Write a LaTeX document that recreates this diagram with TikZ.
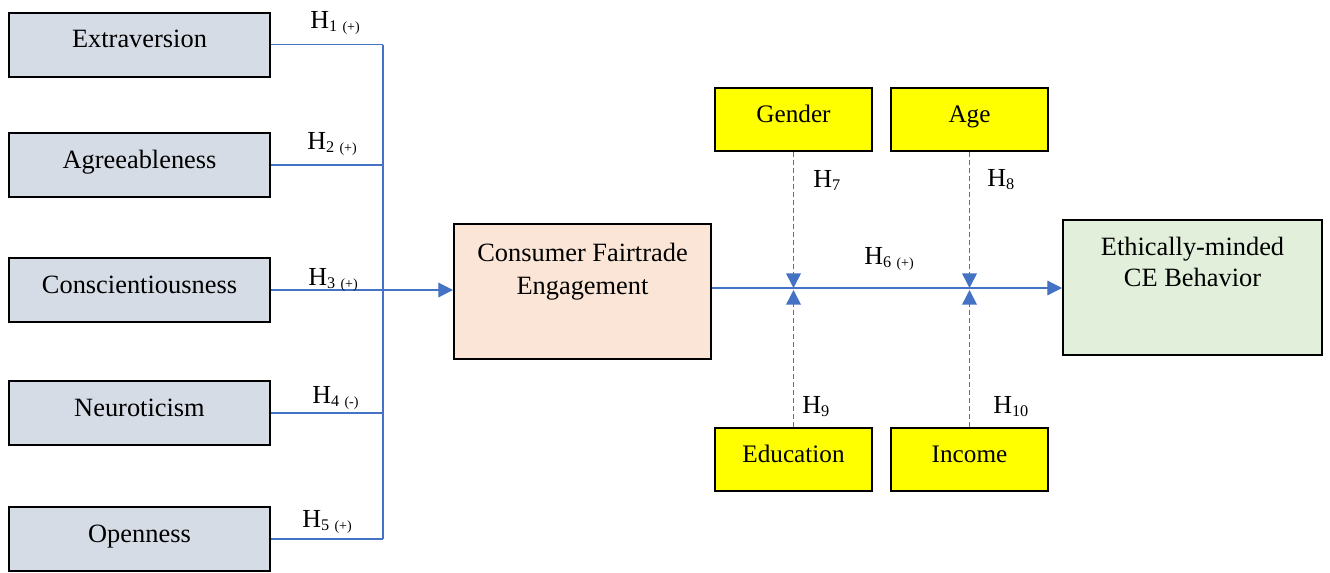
\documentclass[tikz,border=0pt]{standalone}
\usepackage{fontspec}
\setmainfont{Liberation Serif}
\usetikzlibrary{arrows.meta}
\definecolor{pgray}{HTML}{D6DCE5}
\definecolor{ppeach}{HTML}{FBE5D6}
\definecolor{pgreen}{HTML}{E2EFDA}
\definecolor{pyellow}{HTML}{FFFF00}
\definecolor{pblue}{HTML}{4472C4}
\newcommand{\hyp}[2]{\fontsize{19.5}{22}\selectfont H\raisebox{-2.5pt}{\fontsize{12.2}{14}\selectfont #1\ifx\relax#2\relax\else\hspace{4pt}\fontsize{10.5}{12}\selectfont #2\fi}}
\begin{document}
\begin{tikzpicture}[x=0.75pt,y=-0.75pt,
  trait/.style={draw=black,line width=1.5pt,fill=pgray,minimum width=195.75pt,minimum height=48pt,inner sep=0pt,font=\fontsize{19.8}{23}\selectfont,text height=14pt,text depth=8.8pt},
  modbox/.style={draw=black,line width=1.5pt,fill=pyellow,minimum width=117.75pt,minimum height=47.25pt,inner sep=0pt,font=\fontsize{18.9}{22}\selectfont,text height=14pt,text depth=8.8pt},
  bigbox/.style={draw=black,line width=1.5pt,minimum height=101.25pt,inner sep=0pt},
  boxtext/.style={anchor=base,inner sep=0pt,font=\fontsize{19.8}{23}\selectfont},
  hlab/.style={anchor=base west,inner sep=0pt},
  blueline/.style={draw=pblue,line width=0.9pt},
  arrowline/.style={blueline,-{Triangle[length=11pt,width=11pt]}},
  modarrow/.style={draw=pblue,line width=1.2pt,dash pattern=on 3.75pt off 2.25pt,-{Triangle[length=11pt,width=11pt,fill=pblue]}}
]
\useasboundingbox (0,0) rectangle (1330,572);

% trait boxes
\node[trait] (ext) at (139.5,44.5) {Extraversion};
\node[trait] (agr) at (139.5,165) {Agreeableness};
\node[trait] (con) at (139.5,290) {Conscientiousness};
\node[trait] (neu) at (139.5,413) {Neuroticism};
\node[trait] (ope) at (139.5,539) {Openness};

% central boxes
\node[bigbox,fill=ppeach,minimum width=192.75pt] (cfe) at (582.5,291.5) {};
\node[boxtext] (cfet1) at (582.5,261) {Consumer Fairtrade};
\node[boxtext] (cfet2) at (582.5,294) {Engagement};
\node[bigbox,fill=pgreen,minimum width=194.25pt] (emb) at (1192.5,287.5) {};
\node[boxtext] (embt1) at (1192.5,255.7) {Ethically-minded};
\node[boxtext] (embt2) at (1192.5,286.7) {CE Behavior};

% moderators
\node[modbox] (gen) at (793.5,119.5) {Gender};
\node[modbox] (age) at (969.5,119.5) {Age};
\node[modbox] (edu) at (793.5,459.5) {Education};
\node[modbox] (inc) at (969.5,459.5) {Income};

% bus
\coordinate (busx) at (383,0);
\foreach \n in {ext,agr,neu,ope} \draw[blueline] (\n.east) -- (\n.east -| busx);
\draw[blueline] (ext.east -| busx) -- (ope.east -| busx);
\draw[arrowline] (con.east) -- (con.east -| cfe.west);

% main path
\coordinate (mline) at (0,288);
\draw[arrowline] (mline -| cfe.east) -- (mline -| emb.west);

% moderator arrows
\draw[modarrow] (gen.south) -- (gen.south |- mline);
\draw[modarrow] (age.south) -- (age.south |- mline);
\draw[modarrow] (edu.north) -- ([yshift=-1.5pt]edu.north |- mline);
\draw[modarrow] (inc.north) -- ([yshift=-1.5pt]inc.north |- mline);

% hypothesis labels
\node[hlab] (h1) at (310,28) {\hyp{1}{(+)}};
\node[hlab] (h2) at (307,149) {\hyp{2}{(+)}};
\node[hlab] (h3) at (308,285) {\hyp{3}{(+)}};
\node[hlab] (h4) at (312,403) {\hyp{4}{(-)}};
\node[hlab] (h5) at (302,527) {\hyp{5}{(+)}};
\node[hlab] (h6) at (864,264) {\hyp{6}{(+)}};
\node[hlab] (h7) at (813,187) {\hyp{7}{}};
\node[hlab] (h8) at (987,186) {\hyp{8}{}};
\node[hlab] (h9) at (802,413) {\hyp{9}{}};
\node[hlab] (h10) at (993,413) {\hyp{10}{}};
\end{tikzpicture}
\end{document}
